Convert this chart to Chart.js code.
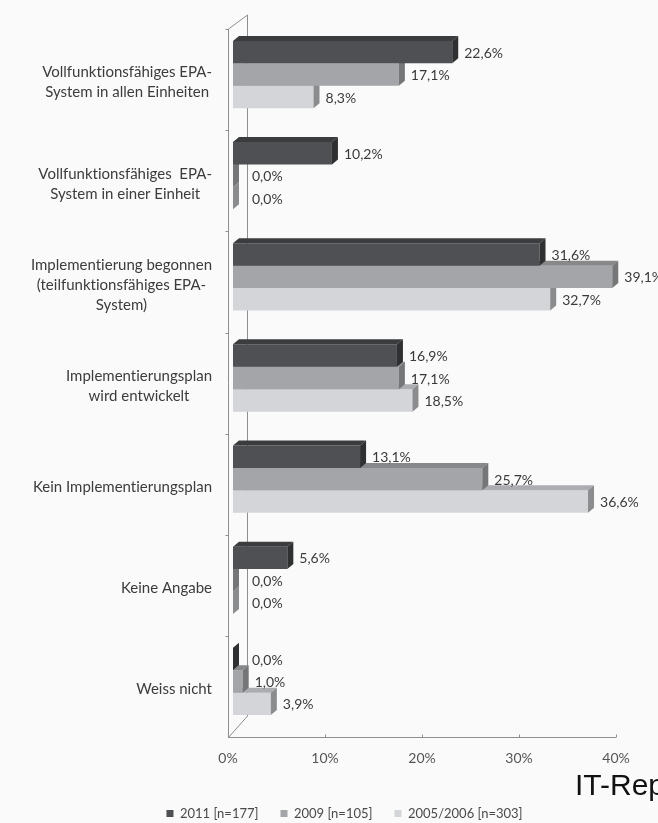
<!DOCTYPE html>
<html>
<head>
<meta charset="utf-8">
<script src="https://cdn.jsdelivr.net/npm/chart.js@4.4.0/dist/chart.umd.min.js"></script>
<style>
  html, body { margin: 0; padding: 0; background: #fafafa; }
  #wrap { width: 658px; height: 823px; }
</style>
</head>
<body>
<div id="wrap"><canvas id="myChart" width="658" height="823"></canvas></div>
<script>
// categories (y axis), one entry per group
const categories = [
    ["Vollfunktionsfähiges EPA-", "System in allen Einheiten"],
    ["Vollfunktionsfähiges  EPA-", "System in einer Einheit"],
    ["Implementierung begonnen", "(teilfunktionsfähiges EPA-", "System)"],
    ["Implementierungsplan", "wird entwickelt"],
    ["Kein Implementierungsplan"],
    ["Keine Angabe"],
    ["Weiss nicht"]
];
const seriesNames = ["2011 [n=177]", "2009 [n=105]", "2005/2006 [n=303]"];
const values2011 = [22.6, 10.2, 31.6, 16.9, 13.1, 5.6, 0.0];
const values2009 = [17.1, 0.0, 39.1, 17.1, 25.7, 0.0, 1.0];
const values2005 = [8.3, 0.0, 32.7, 18.5, 36.6, 0.0, 3.9];
const xTickValues = [0, 10, 20, 30, 40];
const sourceText = "IT-Report";

// front / top / side colours of each series
const frontColors = ["#4e5053", "#a3a5a8", "#d3d5d8"];
const topColors = ["#3b3c3e", "#86888a", "#abadb0"];
const sideColors = ["#2f3032", "#747678", "#8a8c8e"];
const depthX = 6;
const depthY = 5;
const labelFont = "Lato, 'Open Sans', sans-serif";

function fmt(v) {
    return v.toFixed(1).replace(".", ",") + "%";
}

const bars3d = {
    id: "bars3d",
    beforeDraw(chart) {
        const ctx = chart.ctx;
        ctx.save();
        ctx.fillStyle = "#fafafa";
        ctx.fillRect(0, 0, chart.width, chart.height);
        ctx.restore();
    },
    beforeDatasetsDraw(chart) {
        // the 3d frame: front axis, back wall edge and floor
        const ctx = chart.ctx;
        const area = chart.chartArea;
        const xs = chart.scales.x;
        const zeroX = xs.getPixelForValue(0);
        const frontX = Math.round(zeroX - 5) + 0.5;
        const backX = Math.round(zeroX + 14) + 0.5;
        const topY = area.top + 5;
        const floorY = Math.round(area.bottom + 5) + 0.5;
        ctx.save();
        ctx.strokeStyle = "#8e8e8e";
        ctx.lineWidth = 1;
        ctx.beginPath();
        ctx.moveTo(frontX, topY);
        ctx.lineTo(frontX, floorY);
        ctx.moveTo(frontX, topY);
        ctx.lineTo(backX, area.top - 9);
        ctx.lineTo(backX, area.bottom - 16);
        ctx.lineTo(frontX, floorY);
        ctx.moveTo(frontX, floorY);
        ctx.lineTo(xs.getPixelForValue(xTickValues[xTickValues.length - 1]) - 5, floorY);
        xTickValues.forEach(function (v) {
            const px = Math.round(xs.getPixelForValue(v) - 5) + 0.5;
            ctx.moveTo(px, floorY - 3);
            ctx.lineTo(px, floorY);
        });
        const n = categories.length;
        for (let k = 0; k < n; k++) {
            const py = Math.round(topY + (k * (floorY - topY)) / n) + 0.5;
            ctx.moveTo(frontX - 3, py);
            ctx.lineTo(frontX, py);
        }
        ctx.stroke();
        ctx.restore();
    },
    afterDatasetDraw(chart, args) {
        // top and right faces, drawn right after each dataset's fronts
        const ctx = chart.ctx;
        const i = args.index;
        ctx.save();
        args.meta.data.forEach(function (el) {
            const p = el.getProps(["x", "y", "base", "height"], true);
            const top = p.y - p.height / 2;
            const bottom = p.y + p.height / 2;
            ctx.fillStyle = topColors[i];
            ctx.beginPath();
            ctx.moveTo(p.base, top);
            ctx.lineTo(p.base + depthX, top - depthY);
            ctx.lineTo(p.x + depthX, top - depthY);
            ctx.lineTo(p.x, top);
            ctx.closePath();
            ctx.fill();
            ctx.fillStyle = sideColors[i];
            ctx.beginPath();
            ctx.moveTo(p.x, top);
            ctx.lineTo(p.x + depthX, top - depthY);
            ctx.lineTo(p.x + depthX, bottom - depthY);
            ctx.lineTo(p.x, bottom);
            ctx.closePath();
            ctx.fill();
        });
        ctx.restore();
    },
    afterDatasetsDraw(chart) {
        const ctx = chart.ctx;
        const xs = chart.scales.x;
        const ys = chart.scales.y;
        const zeroX = xs.getPixelForValue(0);
        ctx.save();
        ctx.textRendering = "optimizeSpeed";
        // value labels
        ctx.font = "14px " + labelFont;
        ctx.fillStyle = "#3a3a3a";
        ctx.textAlign = "left";
        ctx.textBaseline = "middle";
        chart.data.datasets.forEach(function (ds, i) {
            chart.getDatasetMeta(i).data.forEach(function (el, j) {
                const tx = Math.max(el.x + 12, zeroX + 19);
                ctx.fillText(fmt(ds.data[j]), tx, el.y + 1);
            });
        });
        // category labels, lines centred, block right aligned
        ctx.font = "15px " + labelFont;
        ctx.fillStyle = "#3c3c3c";
        ctx.textAlign = "center";
        const rightEdge = zeroX - 21;
        categories.forEach(function (lines, j) {
            let maxW = 0;
            lines.forEach(function (l) {
                maxW = Math.max(maxW, ctx.measureText(l).width);
            });
            const cx = rightEdge - maxW / 2;
            const cy = ys.getPixelForValue(j) + 8;
            lines.forEach(function (l, k) {
                ctx.fillText(l, cx, cy + (k - (lines.length - 1) / 2) * 20);
            });
        });
        ctx.restore();
    },
    afterDraw(chart) {
        const ctx = chart.ctx;
        ctx.save();
        ctx.font = "30px 'Liberation Sans', Arial, sans-serif";
        ctx.fillStyle = "#111111";
        ctx.textAlign = "left";
        ctx.textBaseline = "alphabetic";
        ctx.fillText(sourceText, 575, 795);
        ctx.restore();
    }
};

const ctx = document.querySelector("#myChart").getContext("2d");
const myChart = new Chart(ctx, {
    type: "bar",
    data: {
        labels: categories,
        datasets: [
            { label: seriesNames[0], data: values2011, backgroundColor: frontColors[0] },
            { label: seriesNames[1], data: values2009, backgroundColor: frontColors[1] },
            { label: seriesNames[2], data: values2005, backgroundColor: frontColors[2] }
        ]
    },
    options: {
        indexAxis: "y",
        responsive: false,
        animation: false,
        layout: { padding: { top: 24, left: 68, right: 37, bottom: -7 } },
        datasets: {
            bar: { barPercentage: 1, categoryPercentage: 0.665, borderWidth: 0 }
        },
        scales: {
            x: {
                min: 0,
                max: 40,
                afterBuildTicks: function (scale) {
                    scale.ticks = xTickValues.map(function (v) { return { value: v }; });
                },
                afterFit: function (scale) { scale.height = 53; },
                grid: { display: false, drawTicks: false },
                border: { display: false },
                ticks: {
                    padding: 18,
                    labelOffset: -5,
                    color: "#555555",
                    font: { family: labelFont, size: 14 },
                    callback: function (v) { return v + "%"; }
                }
            },
            y: {
                grid: { display: false, drawTicks: false },
                border: { display: false },
                ticks: { display: false },
                afterFit: function (scale) { scale.width = 165; }
            }
        },
        plugins: {
            tooltip: { enabled: false },
            legend: {
                position: "bottom",
                labels: {
                    boxWidth: 7,
                    boxHeight: 7,
                    padding: 22,
                    color: "#4a4a4a",
                    font: { family: labelFont, size: 13 }
                }
            }
        }
    },
    plugins: [bars3d]
});
</script>
</body>
</html>
